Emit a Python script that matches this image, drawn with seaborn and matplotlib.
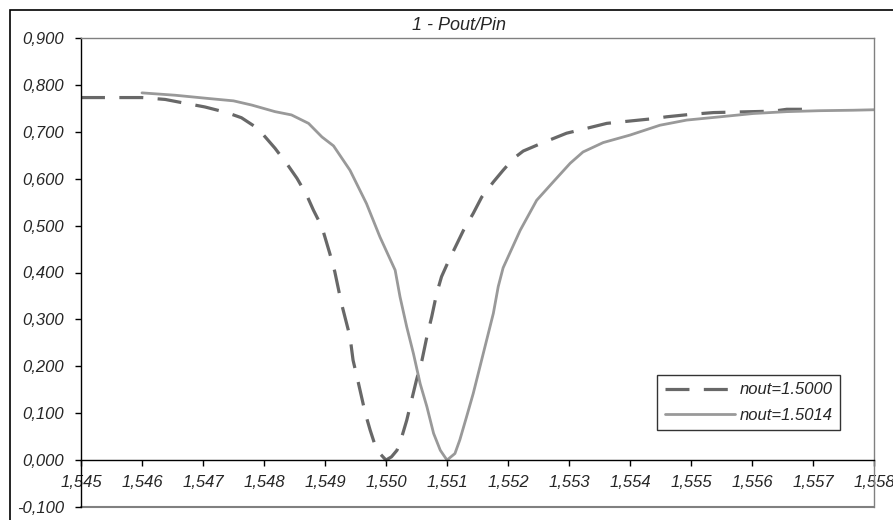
import matplotlib
matplotlib.use('Agg')
import matplotlib.pyplot as plt
from matplotlib.patches import Rectangle
from matplotlib.ticker import FuncFormatter, MultipleLocator
import pandas as pd
import seaborn as sns

# nout = 1.5000 (dashed)
lam_a = [1.54500, 1.54600, 1.54638, 1.54662, 1.54703, 1.54739, 1.54763, 1.54790,
         1.54818, 1.54839, 1.54854, 1.54870, 1.54881, 1.54895, 1.54908, 1.54916,
         1.54927, 1.54941, 1.54946, 1.54955, 1.54966, 1.54974, 1.54982, 1.54990,
         1.55000, 1.55009, 1.55018, 1.55026, 1.55034, 1.55042, 1.55050, 1.55059,
         1.55067, 1.55075, 1.55083, 1.55091, 1.55102, 1.55127, 1.55143, 1.55157,
         1.55176, 1.55192, 1.55209, 1.55225, 1.55252, 1.55296, 1.55334, 1.55362,
         1.55400, 1.55438, 1.55460, 1.55498, 1.55537, 1.55569, 1.55635, 1.55657,
         1.55695]
val_a = [0.773, 0.773, 0.769, 0.763, 0.753, 0.741, 0.730, 0.707,
         0.665, 0.629, 0.601, 0.565, 0.533, 0.497, 0.440, 0.402,
         0.334, 0.263, 0.213, 0.163, 0.100, 0.064, 0.032, 0.014,
         0.000, 0.007, 0.021, 0.050, 0.085, 0.128, 0.171, 0.213,
         0.263, 0.306, 0.355, 0.391, 0.423, 0.490, 0.526, 0.561,
         0.593, 0.618, 0.643, 0.659, 0.674, 0.697, 0.709, 0.718,
         0.723, 0.728, 0.732, 0.737, 0.741, 0.742, 0.744, 0.748,
         0.748]

# nout = 1.5014 (solid)
lam_b = [1.54600, 1.54654, 1.54709, 1.54750, 1.54780, 1.54818, 1.54845, 1.54873,
         1.54895, 1.54914, 1.54941, 1.54968, 1.54990, 1.55015, 1.55023, 1.55034,
         1.55045, 1.55056, 1.55067, 1.55078, 1.55089, 1.55100, 1.55113, 1.55121,
         1.55132, 1.55143, 1.55154, 1.55165, 1.55176, 1.55184, 1.55192, 1.55220,
         1.55247, 1.55274, 1.55302, 1.55323, 1.55356, 1.55400, 1.55449, 1.55493,
         1.55548, 1.55602, 1.55657, 1.55711, 1.55766, 1.55800]
val_b = [0.783, 0.778, 0.771, 0.766, 0.757, 0.743, 0.736, 0.718,
         0.689, 0.670, 0.618, 0.547, 0.476, 0.405, 0.348, 0.284,
         0.227, 0.163, 0.114, 0.057, 0.021, 0.000, 0.014, 0.043,
         0.092, 0.142, 0.199, 0.256, 0.313, 0.370, 0.410, 0.490,
         0.554, 0.593, 0.633, 0.657, 0.677, 0.693, 0.714, 0.725,
         0.732, 0.739, 0.743, 0.745, 0.746, 0.747]

labels = ["nout=1.5000", "nout=1.5014"]
title = "1 - Pout/Pin"

df_a = pd.DataFrame({"lam": lam_a, "val": val_a})
df_b = pd.DataFrame({"lam": lam_b, "val": val_b})

sns.set_theme(style="white")
plt.rcParams['font.family'] = ['Liberation Sans', 'DejaVu Sans']
plt.rcParams['font.style'] = 'italic'

W, H = 893, 520
fig = plt.figure(figsize=(W / 100, H / 100), dpi=100)
ax = fig.add_axes([81 / W, (H - 507) / H, 793 / W, 469 / H])

sns.lineplot(data=df_a, x="lam", y="val", ax=ax, color="#686868", lw=2.3,
             linestyle=(0, (7.5, 4.5)), label=labels[0], estimator=None)
sns.lineplot(data=df_b, x="lam", y="val", ax=ax, color="#999999", lw=2.0,
             label=labels[1], estimator=None)

ax.set_xlim(1.545, 1.558)
ax.set_ylim(-0.1, 0.9)
ax.xaxis.set_major_locator(MultipleLocator(0.001))
ax.yaxis.set_major_locator(MultipleLocator(0.1))
fmt = FuncFormatter(lambda v, p: f"{v:.3f}".replace(".", ","))
ax.xaxis.set_major_formatter(fmt)
ax.yaxis.set_major_formatter(fmt)
ax.set_xlabel("")
ax.set_ylabel("")

# x axis crosses at 0
ax.spines['bottom'].set_position(('data', 0))
ax.spines['bottom'].set_color('black')
ax.spines['left'].set_color('black')
ax.spines['top'].set_color('#808080')
ax.spines['right'].set_color('#808080')
for s in ax.spines.values():
    s.set_linewidth(1)
ax.axhline(-0.1, color='#808080', lw=1.5, clip_on=False, zorder=0)

ax.tick_params(axis='x', direction='out', length=4, width=1, color='black',
               pad=7, labelsize=12, bottom=True)
ax.tick_params(axis='y', direction='out', length=4, width=1, color='black',
               pad=8, labelsize=12, left=True)

leg = ax.legend(loc='upper left', bbox_to_anchor=(657 / W, 1 - 375 / H),
                bbox_transform=fig.transFigure, fontsize=12, frameon=True,
                fancybox=False, edgecolor='black', handlelength=4.2,
                handletextpad=0.3, labelspacing=0.6, borderpad=0.45,
                borderaxespad=0)
leg.get_frame().set_linewidth(1)

fig.text(459 / W, 1 - 25 / H, title, ha='center', va='center', fontsize=13,
         style='italic')

# chart area border
fig.add_artist(Rectangle((10 / W, -0.05), 1.2, 1 - 10 / H + 0.05,
                         transform=fig.transFigure, fill=False,
                         edgecolor='black', lw=1.2))

fig.savefig("out.png", dpi=100)
